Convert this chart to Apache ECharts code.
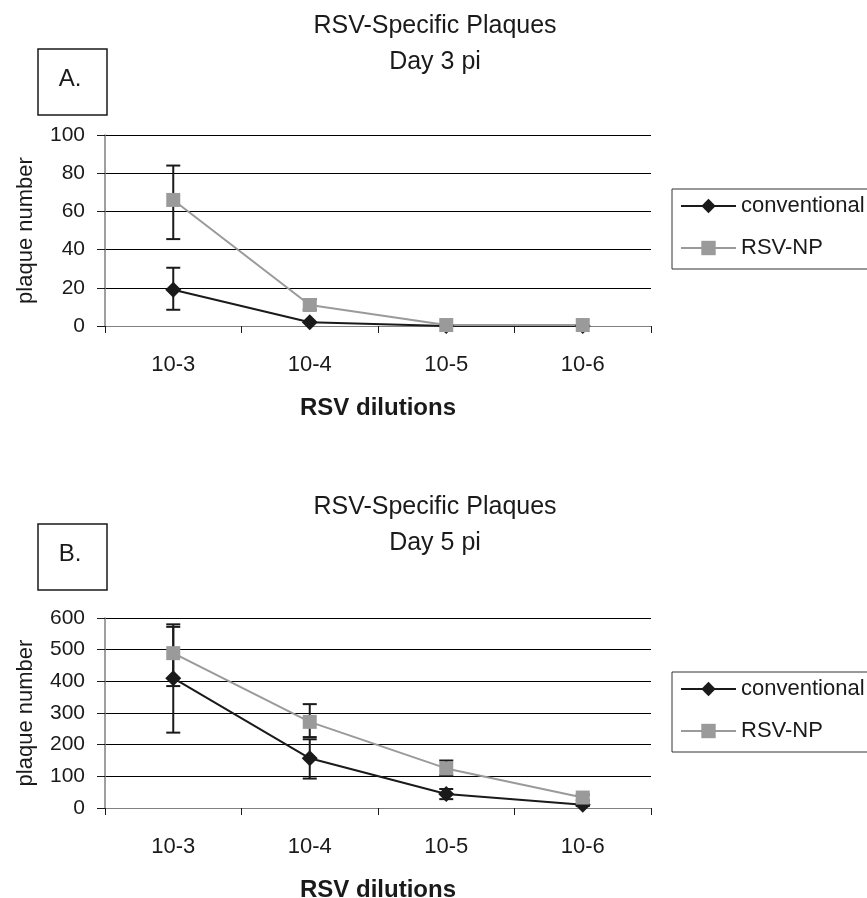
<!DOCTYPE html>
<html>
<head>
<meta charset="utf-8">
<script src="https://cdn.jsdelivr.net/npm/echarts@6/dist/echarts.min.js"></script>
<style>
  html, body { margin: 0; padding: 0; background: #fff; }
  #chart { width: 867px; height: 898px; }
</style>
</head>
<body>
<div id="chart"></div>
<script>
// dilution categories
const categories = ['10-3', '10-4', '10-5', '10-6']

// A. day 3 pi
const day3Conventional = [19, 2, 0, 0]
const day3ConventionalLow = [8.5, 2, 0, 0]
const day3ConventionalHigh = [30.5, 2, 0, 0]
const day3Np = [66, 11, 0.5, 0.5]
const day3NpLow = [45.5, 8.5, 0.5, 0.5]
const day3NpHigh = [84, 14, 0.5, 0.5]

// B. day 5 pi
const day5Conventional = [410, 157, 44, 10]
const day5ConventionalLow = [238, 93, 28, 6]
const day5ConventionalHigh = [572, 217, 60, 14]
const day5Np = [489, 272, 125, 33]
const day5NpLow = [385, 224, 103, 24]
const day5NpHigh = [580, 328, 150, 42]

const font = 'Liberation Sans, Arial, sans-serif'
const ink = '#1a1a1a'
const npGray = '#9a9a9a'

function errorBars(idx, low, high) {
  return {
    type: 'custom',
    name: 'err' + idx,
    xAxisIndex: idx,
    yAxisIndex: idx,
    z: 1,
    silent: true,
    data: categories.map((c, i) => [i, low[i], high[i]]),
    encode: { x: 0, y: [1, 2] },
    renderItem: function (params, api) {
      if (api.value(1) === api.value(2)) return null
      const lo = api.coord([api.value(0), api.value(1)])
      const hi = api.coord([api.value(0), api.value(2)])
      const cap = 7
      const st = { stroke: ink, lineWidth: 2 }
      return {
        type: 'group',
        children: [
          { type: 'line', shape: { x1: lo[0], y1: lo[1], x2: hi[0], y2: hi[1] }, style: st },
          { type: 'line', shape: { x1: lo[0] - cap, y1: lo[1], x2: lo[0] + cap, y2: lo[1] }, style: st },
          { type: 'line', shape: { x1: hi[0] - cap, y1: hi[1], x2: hi[0] + cap, y2: hi[1] }, style: st },
        ],
      }
    },
  }
}

function lineSeries(idx, name, values, color, symbol, size) {
  return {
    name: name,
    type: 'line',
    xAxisIndex: idx,
    yAxisIndex: idx,
    z: 3,
    data: values,
    symbol: symbol,
    symbolSize: size,
    lineStyle: { color: color, width: 2 },
    itemStyle: { color: color },
  }
}

function xAxis(idx) {
  return {
    type: 'category',
    gridIndex: idx,
    data: categories,
    boundaryGap: true,
    axisLine: { lineStyle: { color: '#808080', width: 1 } },
    axisTick: { show: true, length: 7, lineStyle: { color: ink } },
    axisLabel: { color: ink, fontSize: 22, fontFamily: font, margin: 28 },
    name: 'RSV dilutions',
    nameLocation: 'middle',
    nameGap: 70,
    nameTextStyle: { color: ink, fontSize: 24, fontWeight: 'bold', fontFamily: font },
  }
}

function yAxis(idx, max, interval) {
  return {
    type: 'value',
    gridIndex: idx,
    min: 0,
    max: max,
    interval: interval,
    axisLine: { show: true, lineStyle: { color: '#808080', width: 1.5 } },
    axisTick: { show: true, length: 8, lineStyle: { color: ink } },
    axisLabel: { color: ink, fontSize: 21, fontFamily: font, margin: 20 },
    splitLine: { show: true, lineStyle: { color: '#000', width: 1 } },
    name: 'plaque number',
    nameLocation: 'middle',
    nameGap: 68,
    nameTextStyle: { color: ink, fontSize: 22, fontFamily: font },
  }
}

function legend(top) {
  return {
    data: ['conventional', 'RSV-NP'],
    orient: 'vertical',
    left: 672,
    top: top,
    padding: [6, 3, 10, 8],
    itemGap: 20,
    itemWidth: 55,
    itemHeight: 18,
    borderColor: '#333',
    borderWidth: 1,
    textStyle: { color: ink, fontSize: 22, fontFamily: font },
  }
}

function panelBox(y, label) {
  return [
    {
      type: 'rect',
      shape: { x: 38, y: y, width: 69, height: 66 },
      style: { fill: 'none', stroke: ink, lineWidth: 1.5 },
    },
    {
      type: 'text',
      x: 70,
      y: y + 30,
      style: { text: label, fill: ink, font: '24px ' + font, textAlign: 'center', textVerticalAlign: 'middle' },
    },
  ]
}

let mychart = echarts.init(document.getElementById('chart'))
mychart.setOption({
  animation: false,
  backgroundColor: '#fff',
  title: [
    {
      text: 'RSV-Specific Plaques\nDay 3 pi',
      left: 435,
      top: 8,
      padding: 0,
      textAlign: 'center',
      textStyle: { color: ink, fontSize: 25, fontWeight: 'normal', fontFamily: font, lineHeight: 36 },
    },
    {
      text: 'RSV-Specific Plaques\nDay 5 pi',
      left: 435,
      top: 489,
      padding: 0,
      textAlign: 'center',
      textStyle: { color: ink, fontSize: 25, fontWeight: 'normal', fontFamily: font, lineHeight: 36 },
    },
  ],
  graphic: panelBox(49, 'A.').concat(panelBox(524, 'B.')),
  legend: [legend(189), legend(672)],
  grid: [
    { left: 105, right: 216, top: 135, height: 191, outerBoundsMode: 'none' },
    { left: 105, right: 216, top: 618, height: 190, outerBoundsMode: 'none' },
  ],
  xAxis: [xAxis(0), xAxis(1)],
  yAxis: [yAxis(0, 100, 20), yAxis(1, 600, 100)],
  series: [
    errorBars(0, day3ConventionalLow, day3ConventionalHigh),
    errorBars(0, day3NpLow, day3NpHigh),
    lineSeries(0, 'conventional', day3Conventional, ink, 'diamond', 16),
    lineSeries(0, 'RSV-NP', day3Np, npGray, 'rect', 14),
    errorBars(1, day5ConventionalLow, day5ConventionalHigh),
    errorBars(1, day5NpLow, day5NpHigh),
    lineSeries(1, 'conventional', day5Conventional, ink, 'diamond', 16),
    lineSeries(1, 'RSV-NP', day5Np, npGray, 'rect', 14),
  ],
})
</script>
</body>
</html>
